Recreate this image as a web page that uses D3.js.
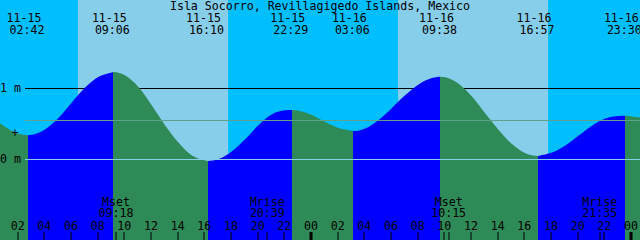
<!DOCTYPE html>
<html>
<head>
<meta charset="utf-8">
<script src="https://cdn.jsdelivr.net/npm/d3@7"></script>
<style>
  html, body { margin: 0; padding: 0; background: #fff; }
  svg { display: block; }
  text { font-family: "DejaVu Sans Mono", monospace; font-size: 11.6px; fill: #000; }
</style>
</head>
<body>
<svg id="chart" width="640" height="240"></svg>
<script>
// ---------- data ----------
const title = "Isla Socorro, Revillagigedo Islands, Mexico";
const year = 2023;

// tide extremes
const tideEventDates   = ["11-15", "11-15", "11-15", "11-15", "11-16", "11-16", "11-16", "11-16"];
const tideEventTimes   = ["02:42", "09:06", "16:10", "22:29", "03:06", "09:38", "16:57", "23:30"];
const tideEventHeights = [0.334, 1.225, -0.028, 0.69, 0.394, 1.16, 0.042, 0.61];
const tideEventTypes   = ["low", "high", "low", "high", "low", "high", "low", "high"];

// hourly tide level (m), hour 0 = 11-15 00:00
const hourlyLevels = [
  0.60, 0.45, 0.355, 0.34, 0.42, 0.58, 0.80, 1.01, 1.16, 1.22,
  1.175, 1.01, 0.75, 0.47, 0.23, 0.05, -0.02, 0.00, 0.11, 0.28,
  0.48, 0.63, 0.685, 0.68, 0.62, 0.52, 0.435, 0.397, 0.43, 0.55,
  0.72, 0.90, 1.05, 1.14, 1.15, 1.06, 0.88, 0.64, 0.41, 0.21,
  0.08, 0.044, 0.09, 0.19, 0.33, 0.47, 0.57, 0.605, 0.60, 0.57
];

// sun
const sunriseTimes = ["11-15 06:27", "11-16 06:27"];
const sunsetTimes  = ["11-15 17:42", "11-16 17:42"];

// moon
const moonEventNames = ["Mset", "Mrise", "Mset", "Mrise"];
const moonEventDates = ["11-15", "11-15", "11-16", "11-16"];
const moonEventTimes = ["09:18", "20:39", "10:15", "21:35"];

// depth lines
const depthLevels = [0, 1];
const meanLevel = 0.549;
const markLevel = 0.37;

// ---------- colours ----------
const nightColor = "#00bfff";
const dayColor = "#87ceeb";
const floodColor = "#0000ff";
const ebbColor = "#2e8b57";
const meanColor = "#5fa08c";
const datumColor = "#87ceeb";

// ---------- setup ----------
const W = 640, H = 240;
const parse = d3.timeParse("%Y-%m-%d %H:%M");
const dt = (md, hm) => parse(`${year}-${md} ${hm}`);
const dts = s => { const [md, hm] = s.split(" "); return dt(md, hm); };
const origin = dt("11-15", "00:00");

const x = d3.scaleTime()
  .domain([dt("11-15", "00:36"), dt("11-17", "00:36")])
  .range([0, W]);
const y = d3.scaleLinear().domain([0, 1]).range([159, 88]);

const svg = d3.select("#chart");

// background: night + day
svg.append("rect").attr("x", 0).attr("y", 0).attr("width", W).attr("height", H).attr("fill", nightColor);
svg.selectAll("rect.day").data(sunriseTimes).join("rect")
  .attr("class", "day")
  .attr("x", (d) => x(dts(d)))
  .attr("y", 0)
  .attr("width", (d, i) => x(dts(sunsetTimes[i])) - x(dts(d)))
  .attr("height", H)
  .attr("fill", dayColor)
  .attr("shape-rendering", "crispEdges");

// 1 m line (behind water)
const depthG = svg.append("g");
depthG.selectAll("line").data(depthLevels.filter(d => d !== 0)).join("line")
  .attr("x1", 25).attr("x2", W)
  .attr("y1", d => Math.round(y(d)) + 0.5).attr("y2", d => Math.round(y(d)) + 0.5)
  .attr("stroke", "#000").attr("stroke-width", 1.2);

// tide series
const events = tideEventTimes.map((t, i) => ({
  date: dt(tideEventDates[i], t), level: tideEventHeights[i], type: tideEventTypes[i],
  md: tideEventDates[i], hm: t
}));
const series = hourlyLevels.map((v, i) => ({ date: d3.timeHour.offset(origin, i), level: v }))
  .concat(events.map(e => ({ date: e.date, level: e.level })))
  .sort((a, b) => a.date - b.date);

const area = d3.area()
  .x(d => x(d.date))
  .y0(H)
  .y1(d => y(d.level))
  .curve(d3.curveMonotoneX);

svg.append("defs").append("clipPath").attr("id", "water")
  .append("path").attr("d", area(series));

// flood / ebb segments
const bounds = [x.domain()[0]].concat(events.map(e => e.date)).concat([x.domain()[1]]);
const segs = [];
for (let i = 0; i < bounds.length - 1; i++) {
  const next = events[i];
  const rising = next ? next.type === "high" : events[events.length - 1].type === "low";
  segs.push({ a: bounds[i], b: bounds[i + 1], color: rising ? floodColor : ebbColor });
}
svg.append("g").attr("clip-path", "url(#water)")
  .selectAll("rect").data(segs).join("rect")
  .attr("x", d => x(d.a))
  .attr("width", d => x(d.b) - x(d.a))
  .attr("y", 0).attr("height", H)
  .attr("fill", d => d.color)
  .attr("shape-rendering", "crispEdges");

// mean and datum lines (over water)
svg.append("line")
  .attr("x1", 25).attr("x2", W)
  .attr("y1", Math.round(y(meanLevel)) + 0.5).attr("y2", Math.round(y(meanLevel)) + 0.5)
  .attr("stroke", meanColor).attr("stroke-width", 1.2);
svg.append("line")
  .attr("x1", 25).attr("x2", W)
  .attr("y1", Math.round(y(0)) + 0.5).attr("y2", Math.round(y(0)) + 0.5)
  .attr("stroke", datumColor).attr("stroke-width", 1.2);

// y labels
svg.selectAll("text.ylab").data(depthLevels).join("text")
  .attr("class", "ylab")
  .attr("x", 21).attr("y", d => y(d) + 4.2)
  .attr("text-anchor", "end")
  .text(d => `${d} m`);
svg.append("text").attr("x", 15).attr("y", y(markLevel) + 4.2)
  .attr("text-anchor", "middle").text("+");

// title
svg.append("text").attr("x", 320).attr("y", 10).attr("text-anchor", "middle").text(title);

// tide event labels
const evG = svg.selectAll("g.ev").data(events).join("g").attr("class", "ev");
evG.append("text").attr("x", d => x(d.date) - 4).attr("y", 22)
  .attr("text-anchor", "middle").text(d => d.md);
evG.append("text").attr("x", d => x(d.date) - 1).attr("y", 34)
  .attr("text-anchor", "middle").text(d => d.hm);

// hour ticks
const ticks = x.ticks(d3.timeHour.every(2));
const tickG = svg.append("g");
tickG.selectAll("text").data(ticks).join("text")
  .attr("x", d => x(d) - 1).attr("y", 230)
  .attr("text-anchor", "middle")
  .text(d3.timeFormat("%H"));
tickG.selectAll("rect").data(ticks).join("rect")
  .attr("x", d => Math.round(x(d) - 1) - (d.getHours() === 0 ? 1.5 : 0.5))
  .attr("width", d => d.getHours() === 0 ? 3 : 1)
  .attr("y", 232).attr("height", 8)
  .attr("fill", "#000");

// moon events
const moon = moonEventNames.map((n, i) => ({ name: n, date: dt(moonEventDates[i], moonEventTimes[i]), hm: moonEventTimes[i] }));
const mG = svg.selectAll("g.moon").data(moon).join("g").attr("class", "moon");
mG.append("text").attr("x", d => x(d.date)).attr("y", 206).attr("text-anchor", "middle").text(d => d.name);
mG.append("text").attr("x", d => x(d.date)).attr("y", 217).attr("text-anchor", "middle").text(d => d.hm);
mG.append("rect").attr("x", d => Math.round(x(d.date)) - 0.5).attr("width", 1)
  .attr("y", 232).attr("height", 8).attr("fill", "#000");
</script>
</body>
</html>
